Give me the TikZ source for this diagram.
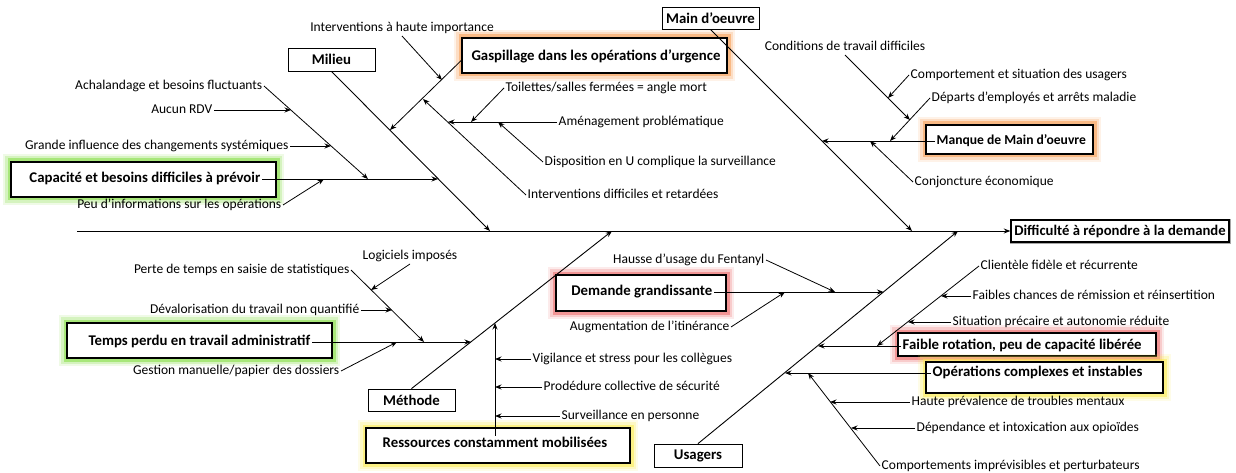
\documentclass[tikz,border=0pt]{standalone}
\usepackage{fontspec}
\setmainfont{Carlito}
\usetikzlibrary{arrows.meta,calc}
\definecolor{glowgreen}{RGB}{125,220,55}
\definecolor{gloworange}{RGB}{248,150,70}
\definecolor{glowred}{RGB}{238,95,95}
\definecolor{glowyellow}{RGB}{252,236,70}
\begin{document}
\begin{tikzpicture}[x=1pt,y=-1pt,
  txt/.style={font=\fontsize{13.5}{16}\selectfont, inner sep=1.5pt, text height=9.5pt, text depth=3pt},
  btxt/.style={txt, font=\fontsize{14.8}{17}\selectfont\bfseries, text height=10.2pt, text depth=3.2pt},
  catbox/.style={draw=black, line width=0.8pt, fill=white, inner sep=0pt,
    font=\fontsize{14.8}{17}\selectfont\bfseries},
  arr/.style={draw=black, line width=0.8pt, -{Stealth[length=6.5pt,width=5pt]}},
  bone/.style={arr, line width=0.9pt},
  hlbox/.style={draw=black, line width=2.6pt, fill=white, inner sep=0pt,
    preaction={draw=#1, draw opacity=0.12, line width=16pt},
    preaction={draw=#1, draw opacity=0.22, line width=11.5pt},
    preaction={draw=#1, draw opacity=0.50, line width=7pt}},
]
\fill[white] (0,0) rectangle (1236,473);
\useasboundingbox (0,0) rectangle (1236,473);

% highlighted cause boxes
\node[hlbox=glowgreen,  minimum width=265pt, minimum height=35pt] (capB)  at (143.5,179.5) {};
\node[hlbox=gloworange, minimum width=265pt, minimum height=35pt] (gaspB) at (594.5,55.5) {};
\node[hlbox=gloworange, minimum width=167pt, minimum height=29pt] (manB)  at (1009.5,139.5) {};
\node[hlbox=glowgreen,  minimum width=265pt, minimum height=35pt] (tpB)   at (199.5,340.5) {};
\node[hlbox=glowyellow, minimum width=264pt, minimum height=35pt] (resB)  at (498,445.5) {};
\node[hlbox=glowred,    minimum width=170pt, minimum height=36pt] (demB)  at (641,293) {};
\node[hlbox=glowred,    minimum width=258pt, minimum height=23pt] (faiB)  at (1027,344.5) {};
\node[hlbox=glowyellow, minimum width=237pt, minimum height=31pt] (opB)   at (1044.5,377.5) {};

% categories and effect
\node[catbox, minimum width=87pt, minimum height=23pt] (milieu) at (331.5,59.5) {Milieu};
\node[catbox, minimum width=97pt, minimum height=22pt] (mainq)  at (710.5,18) {Main d’oeuvre};
\node[catbox, minimum width=87pt, minimum height=22pt] (meth)   at (411.5,400) {Méthode};
\node[catbox, minimum width=88pt, minimum height=23pt] (usag)   at (698,455.5) {Usagers};
\node[draw=black, line width=1.4pt, fill=white, inner sep=0pt, minimum width=218pt, minimum height=22pt,
  font=\fontsize{14.7}{17}\selectfont\bfseries,
  preaction={draw=black!35, line width=3pt}] (eff) at (1120,231) {Difficulté à répondre à la demande};

% spine and main bones
\coordinate (spL) at (77,231);
\draw[bone] (spL) -- (eff.west);
\coordinate (jM)  at (490,231);
\coordinate (jMo) at (912,231);
\coordinate (jMe) at (612,231);
\coordinate (jU)  at (958,231);
\draw[bone] (milieu.south) -- (jM);
\draw[bone] (mainq.south) -- (jMo);
\draw[bone] (meth.north) -- (jMe);
\draw[bone] (usag.north) -- (jU);

% ---- Milieu: capacity
\node[btxt, anchor=east] (capT) at (262,179) {Capacité et besoins difficiles à prévoir};
\node[txt, anchor=east] (ach) at (264,86) {Achalandage et besoins fluctuants};
\node[txt, anchor=east] (rdv) at (214,110) {Aucun RDV};
\node[txt, anchor=east] (gi)  at (290,146) {Grande influence des changements systémiques};
\node[txt, anchor=east] (peu) at (283,205) {Peu d’informations sur les opérations};
\coordinate (jCap) at (438,179);
\coordinate (jAch) at (368,179);
\coordinate (jRdv) at (291,110);
\coordinate (jGi)  at (331,146);
\coordinate (jPeu) at (324,179);
\draw[arr] (capT.east) -- (jCap);
\draw[arr] (ach.east) -- (jAch);
\draw[arr] (rdv.east) -- (jRdv);
\draw[arr] (gi.east) -- (jGi);
\draw[arr] (peu.east) -- (jPeu);

% ---- Milieu: emergency operations
\node[btxt] (gaspT) at (596,57) {Gaspillage dans les opérations d’urgence};
\coordinate (gS) at ($(gaspB.west)+(0.5,5)$);
\coordinate (jG) at (390,130);
\draw[arr] (gS) -- (jG);
\node[txt, anchor=south] (iha) at (402,36) {Interventions à haute importance};
\node[txt, anchor=west] (idr)  at (526,195) {Interventions difficiles et retardées};
\node[txt, anchor=west] (amen) at (557,122) {Aménagement problématique};
\node[txt, anchor=west] (toil) at (504,88) {Toilettes/salles fermées = angle mort};
\node[txt, anchor=west] (disp) at (543,162) {Disposition en U complique la surveillance};
\coordinate (jIha) at (442,80);
\coordinate (jId)  at (423,99);
\coordinate (jAm)  at (448,122);
\coordinate (jTo)  at (471,122);
\coordinate (jDi)  at (498,122);
\draw[arr] (iha.south) -- (jIha);
\draw[arr] (idr.west) -- (jId);
\draw[arr] (amen.west) -- (jAm);
\draw[arr] (toil.west) -- (jTo);
\draw[arr] (disp.west) -- (jDi);

% ---- Main d'oeuvre
\node[txt, anchor=west, font=\fontsize{13.6}{16}\selectfont\bfseries] (manT) at (935,141) {Manque de Main d’oeuvre};
\node[txt, anchor=west]  (dep)  at (930,98) {Départs d’employés et arrêts maladie};
\node[txt, anchor=south] (cond) at (845,55) {Conditions de travail difficiles};
\node[txt, anchor=west]  (cmp)  at (909,75) {Comportement et situation des usagers};
\node[txt, anchor=west]  (conj) at (913,182) {Conjoncture économique};
\coordinate (jMq)  at (822,141);
\coordinate (jDep) at (890,141);
\coordinate (jCd)  at (910,120);
\coordinate (jCo)  at (888,98);
\coordinate (jCj)  at (870,141);
\draw[arr] (manT.west) -- (jMq);
\draw[arr] (dep.west) -- (jDep);
\draw[arr] (cond.south) -- (jCd);
\draw[arr] (cmp.west) -- (jCo);
\draw[arr] (conj.west) -- (jCj);

% ---- Methode: administrative work
\node[btxt, anchor=east] (tpT) at (312,342) {Temps perdu en travail administratif};
\node[txt, anchor=east]  (perte) at (351,270) {Perte de temps en saisie de statistiques};
\node[txt, anchor=south] (logi)  at (410,264) {Logiciels imposés};
\node[txt, anchor=east]  (dev)   at (361,310) {Dévalorisation du travail non quantifié};
\node[txt, anchor=east]  (ges)   at (341,371) {Gestion manuelle/papier des dossiers};
\coordinate (jTp) at (471,342);
\coordinate (jPe) at (424,342);
\coordinate (jLo) at (371,290);
\coordinate (jDv) at (392,310);
\coordinate (jGe) at (397,342);
\draw[arr] (tpT.east) -- (jTp);
\draw[arr] (perte.east) -- (jPe);
\draw[arr] (logi.south) -- (jLo);
\draw[arr] (dev.east) -- (jDv);
\draw[arr] (ges.east) -- (jGe);

% ---- Methode: mobilised resources
\node[btxt] (resT) at (495,444) {Ressources constamment mobilisées};
\node[txt, anchor=west] (vig) at (531,359) {Vigilance et stress pour les collègues};
\node[txt, anchor=west] (pro) at (542,387) {Prodédure collective de sécurité};
\node[txt, anchor=west] (sur) at (560,416) {Surveillance en personne};
\coordinate (jRe) at (495,323);
\coordinate (jVi) at (495,359);
\coordinate (jPr) at (495,387);
\coordinate (jSu) at (495,416);
\draw[arr] (resT.north) -- (jRe);
\draw[arr] (vig.west) -- (jVi);
\draw[arr] (pro.west) -- (jPr);
\draw[arr] (sur.west) -- (jSu);

% ---- Usagers: growing demand
\node[btxt, anchor=east] (demT) at (714,292) {Demande grandissante};
\node[txt, anchor=east]  (haus) at (766,260) {Hausse d’usage du Fentanyl};
\node[txt, anchor=east]  (aug)  at (731,327) {Augmentation de l’itinérance};
\coordinate (jDg) at (883.5,292);
\coordinate (jHa) at (835,292);
\coordinate (jAu) at (785,292);
\draw[arr] (demT.east) -- (jDg);
\draw[arr] (haus.east) -- (jHa);
\draw[arr] (aug.east) -- (jAu);

% ---- Usagers: low turnover
\node[btxt, anchor=west] (faiT) at (901,346) {Faible rotation, peu de capacité libérée};
\node[txt, anchor=west]  (cli)  at (979,266) {Clientèle fidèle et récurrente};
\node[txt, anchor=west]  (fc)   at (971,296) {Faibles chances de rémission et réinsertition};
\node[txt, anchor=west]  (sit)  at (951,322) {Situation précaire et autonomie réduite};
\coordinate (jFa) at (818,346);
\coordinate (jCl) at (877,346);
\coordinate (jFc) at (941,296);
\coordinate (jSi) at (908,322);
\draw[arr] (faiT.west) -- (jFa);
\draw[arr] (cli.west) -- (jCl);
\draw[arr] (fc.west) -- (jFc);
\draw[arr] (sit.west) -- (jSi);

% ---- Usagers: complex operations
\node[btxt, anchor=west] (opT) at (931,373) {Opérations complexes et instables};
\node[txt, anchor=west]  (ci)  at (880,466) {Comportements imprévisibles et perturbateurs};
\node[txt, anchor=west]  (hp)  at (910,402) {Haute prévalence de troubles mentaux};
\node[txt, anchor=west]  (dpd) at (915,428) {Dépendance et intoxication aux opioïdes};
\coordinate (jOp) at (785,373);
\coordinate (jCi) at (808,373);
\coordinate (jHp) at (830,402);
\coordinate (jDe) at (851,428);
\draw[arr] (opT.west) -- (jOp);
\draw[arr] (ci.west) -- (jCi);
\draw[arr] (hp.west) -- (jHp);
\draw[arr] (dpd.west) -- (jDe);
\end{tikzpicture}
\end{document}
